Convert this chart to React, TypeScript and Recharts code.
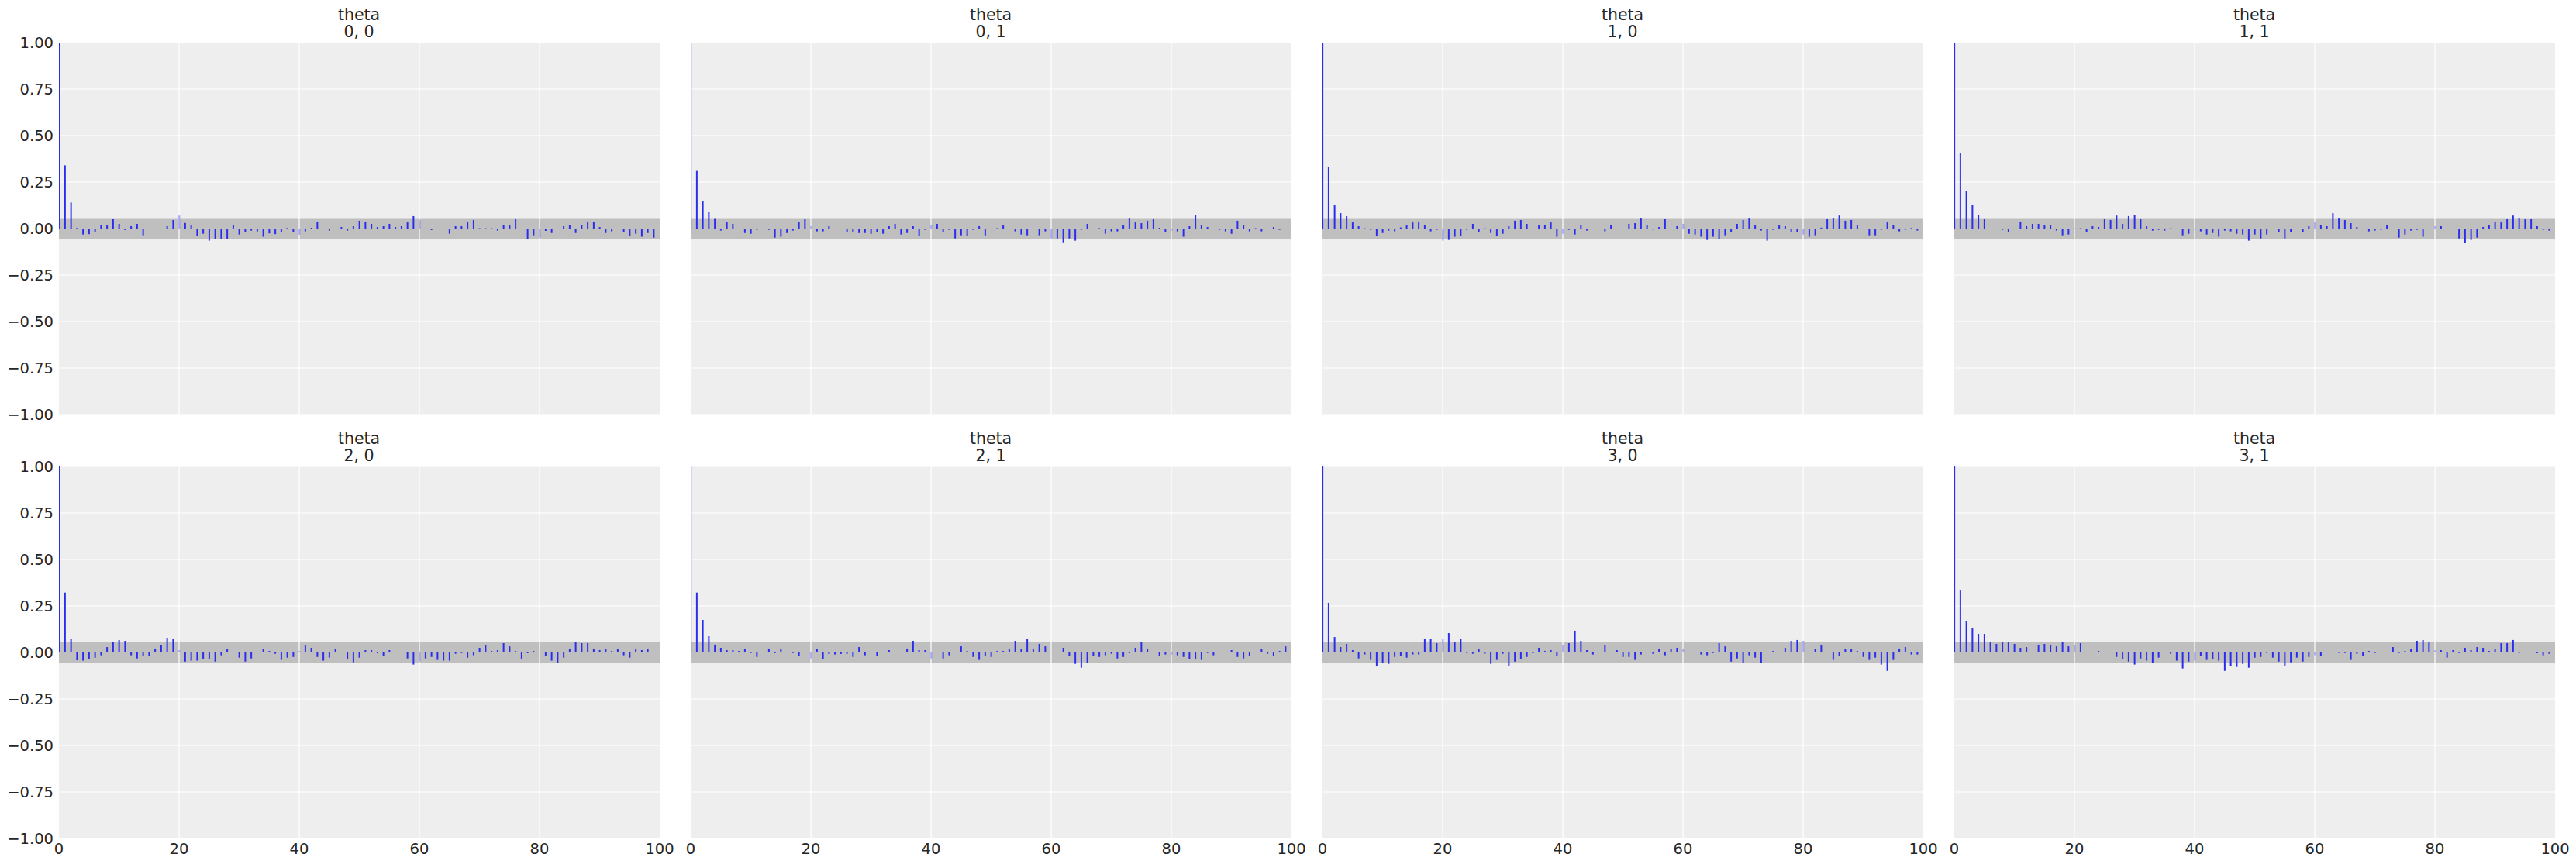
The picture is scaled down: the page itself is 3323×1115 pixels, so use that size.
import React from "react";
import { BarChart, Bar, XAxis, YAxis, CartesianGrid, ReferenceArea, ReferenceLine } from "recharts";

// lag index (categories)
const lags: number[] = Array.from({ length: 100 }, (_, i) => i);
const xTicks = [0, 20, 40, 60, 80, 100];
const yTicks = [-1, -0.75, -0.5, -0.25, 0, 0.25, 0.5, 0.75, 1];
const varName = "theta";
const panelLabels = ["0, 0", "0, 1", "1, 0", "1, 1", "2, 0", "2, 1", "3, 0", "3, 1"];
const bandHalfWidth = 0.056;

const theta00 = [
  1, 0.34, 0.14, 0.003, -0.032, -0.03, -0.02, 0.02, 0.02, 0.05,
  0.025, -0.008, 0.0125, 0.025, -0.036, -0.003, 0, 0, 0.0125, 0.046,
  0.07, 0.03, 0.017, -0.04, -0.028, -0.065, -0.055, -0.055, -0.054, 0.017,
  -0.032, -0.02, -0.011, -0.015, -0.044, -0.026, -0.03, -0.02, 0.003, -0.02,
  -0.033, -0.015, 0.004, 0.037, -0.004, -0.011, -0.003, 0.008, -0.011, 0.0125,
  0.042, 0.035, 0.025, 0.008, 0.0125, 0.025, 0.008, 0.0125, 0.033, 0.067,
  0.046, 0, -0.008, -0.002, -0.003, -0.028, 0.0125, 0.0125, 0.037, 0.046,
  0.002, 0.002, 0.002, -0.011, 0.017, 0.017, 0.05, 0, -0.057, -0.036,
  -0.049, -0.0125, -0.024, 0, 0.0125, 0.02, -0.024, 0.017, 0.037, 0.037,
  0.008, -0.024, -0.015, -0.003, -0.02, -0.04, -0.028, -0.044, -0.024, -0.049,
];

const theta01 = [
  1, 0.31, 0.15, 0.092, 0.056, -0.011, 0.037, 0.025, -0.003, -0.024,
  -0.028, -0.007, 0, -0.007, -0.049, -0.044, -0.024, -0.011, 0.037, 0.054,
  0.0125, -0.015, -0.015, 0.0125, -0.003, 0, -0.02, -0.02, -0.024, -0.024,
  -0.028, -0.02, -0.028, 0.0125, 0.025, -0.032, -0.024, 0.0125, -0.04, -0.007,
  0.017, 0.025, -0.02, -0.007, -0.053, -0.036, -0.04, -0.007, 0.0125, -0.036,
  -0.002, 0.002, 0.017, 0, -0.015, -0.032, -0.036, 0, -0.036, -0.015,
  -0.053, -0.053, -0.074, -0.053, -0.065, -0.007, 0.025, 0, 0.002, -0.028,
  -0.015, -0.015, 0.02, 0.058, 0.033, 0.029, 0.042, 0.05, 0.004, -0.02,
  -0.011, -0.015, -0.044, 0.0125, 0.075, 0.017, 0.008, 0, -0.007, -0.015,
  -0.028, 0.042, 0.017, -0.015, 0.002, -0.015, 0, 0.008, -0.007, -0.003,
];

const theta10 = [
  1, 0.333, 0.129, 0.083, 0.067, 0.033, 0.0125, 0.002, -0.007, -0.04,
  -0.024, -0.011, -0.015, 0.006, 0.02, 0.033, 0.037, 0.02, -0.015, -0.007,
  -0.065, -0.061, -0.044, -0.04, -0.007, 0.025, -0.02, 0.002, -0.024, -0.04,
  -0.028, 0.0125, 0.042, 0.046, 0.025, 0, 0.017, 0.017, 0.033, -0.044,
  -0.028, -0.007, -0.032, 0.017, -0.011, -0.003, 0, -0.015, 0.02, -0.002,
  0, 0.025, 0.029, 0.058, 0.017, -0.005, 0.008, 0.05, 0, 0.0125,
  0.025, -0.028, -0.032, -0.044, -0.061, -0.044, -0.057, -0.036, -0.02, 0.025,
  0.046, 0.058, 0.02, -0.011, -0.065, -0.007, 0.02, 0.0125, -0.02, -0.02,
  -0.032, -0.044, -0.036, 0.005, 0.054, 0.058, 0.07, 0.042, 0.046, 0.02,
  -0.002, -0.036, -0.036, -0.007, 0.033, 0.02, -0.015, -0.007, 0.003, -0.011,
];

const theta11 = [
  1, 0.408, 0.204, 0.129, 0.075, 0.05, -0.003, 0, -0.007, -0.02,
  0, 0.037, 0.0125, 0.025, 0.025, 0.02, 0.02, -0.011, -0.036, -0.032,
  0.002, 0.002, -0.02, 0.0125, 0.008, 0.054, 0.046, 0.07, 0.025, 0.067,
  0.075, 0.05, 0.0125, -0.011, -0.007, -0.011, 0.002, -0.003, -0.036, -0.028,
  -0.007, -0.015, -0.032, -0.024, -0.044, -0.011, -0.015, -0.028, -0.032, -0.065,
  -0.032, -0.053, -0.032, -0.003, -0.02, -0.053, -0.02, -0.003, -0.02, 0.0125,
  0.037, 0.02, 0.0125, 0.083, 0.058, 0.046, 0.029, 0.008, 0, -0.015,
  -0.011, -0.007, 0.017, 0, -0.049, -0.032, -0.011, -0.007, -0.044, 0,
  0.0125, 0.0125, -0.003, 0, -0.053, -0.078, -0.061, -0.049, 0.008, 0.02,
  0.037, 0.033, 0.05, 0.07, 0.058, 0.054, 0.05, 0.0125, -0.007, -0.011,
];

const theta20 = [
  1, 0.322, 0.075, -0.042, -0.044, -0.036, -0.028, -0.015, 0.029, 0.058,
  0.067, 0.0625, -0.015, -0.032, -0.019, -0.019, 0.021, 0.0375, 0.079, 0.075,
  0.0125, -0.049, -0.044, -0.044, -0.036, -0.036, -0.049, -0.015, 0.017, 0,
  -0.028, -0.049, -0.032, 0.004, 0.021, 0.008, -0.007, -0.04, -0.028, -0.024,
  0.008, 0.0375, 0.025, -0.024, -0.044, -0.028, 0.021, 0, -0.036, -0.053,
  -0.028, 0.0125, 0.0125, -0.004, -0.019, 0.0125, 0, 0, -0.032, -0.065,
  -0.049, -0.032, -0.024, -0.04, -0.044, -0.044, -0.007, -0.003, -0.028, -0.015,
  0.025, 0.0375, 0.008, 0.0125, 0.05, 0.033, 0.008, -0.036, -0.004, 0.008,
  0.004, -0.019, -0.044, -0.057, -0.028, 0.021, 0.058, 0.05, 0.05, 0.021,
  0.0125, 0.021, 0.008, 0.017, -0.015, -0.028, 0.021, 0.0125, 0.017, 0,
];

const theta21 = [
  1, 0.322, 0.175, 0.0875, 0.042, 0.025, 0.0125, 0.0125, 0.008, 0.021,
  -0.003, -0.024, 0.004, 0.021, -0.004, 0.021, 0.004, -0.003, -0.019, 0.004,
  -0.032, 0.017, -0.036, -0.008, -0.011, -0.008, -0.007, -0.024, 0.029, -0.015,
  0, -0.019, 0.004, 0.0125, 0.004, 0, 0.021, 0.0625, 0.0125, 0.0125,
  -0.032, 0, -0.032, -0.015, 0.004, 0.033, 0.008, -0.024, -0.04, -0.019,
  -0.024, 0.008, 0.008, 0.021, 0.0625, 0.017, 0.075, 0.021, 0.046, 0.033,
  0, 0.004, 0.025, -0.019, -0.061, -0.082, -0.057, -0.019, -0.024, -0.015,
  -0.007, -0.032, -0.024, -0.004, 0.025, 0.058, 0.021, 0, -0.019, -0.011,
  -0.011, -0.015, -0.024, -0.036, -0.036, -0.04, -0.003, -0.015, 0.004, 0,
  0.0125, -0.024, -0.032, -0.019, 0, 0.017, -0.007, -0.019, 0.008, 0.033,
];

const theta30 = [
  1, 0.267, 0.083, 0.029, 0.046, 0.0125, -0.032, -0.011, -0.04, -0.072,
  -0.057, -0.061, -0.024, -0.019, -0.028, -0.011, -0.011, 0.075, 0.075, 0.05,
  0.071, 0.104, 0.058, 0.071, -0.003, -0.007, 0.021, -0.007, -0.061, -0.04,
  -0.007, -0.072, -0.049, -0.036, -0.024, -0.004, 0.025, 0.008, 0.0125, -0.019,
  0.0375, 0.05, 0.117, 0.0625, 0.0125, -0.011, 0, 0.042, 0, 0.0125,
  -0.024, -0.024, -0.04, -0.011, 0, -0.007, 0.021, -0.015, 0.021, 0.025,
  0.017, 0, 0, -0.011, -0.015, -0.003, 0.05, 0.033, -0.049, -0.032,
  -0.057, -0.015, -0.028, -0.057, 0.004, 0.008, 0, 0.025, 0.0625, 0.067,
  0.0625, 0.004, 0.021, 0.0375, 0.003, -0.04, -0.019, 0.021, 0.017, 0.008,
  -0.024, -0.04, -0.028, -0.065, -0.099, -0.04, 0.021, 0.029, -0.011, -0.011,
];

const theta31 = [
  1, 0.333, 0.167, 0.129, 0.1, 0.1, 0.054, 0.046, 0.058, 0.054,
  0.046, 0.025, 0.029, 0, 0.042, 0.046, 0.042, 0.033, 0.058, 0.033,
  0.042, 0.05, 0.003, 0.003, 0.008, 0, 0, -0.024, -0.036, -0.049,
  -0.065, -0.032, -0.044, -0.057, -0.028, 0.004, -0.007, -0.044, -0.086, -0.049,
  -0.044, -0.019, -0.04, -0.036, -0.044, -0.099, -0.072, -0.078, -0.061, -0.082,
  -0.028, -0.024, -0.003, -0.028, -0.049, -0.072, -0.053, -0.028, -0.049, -0.024,
  -0.015, -0.019, 0, 0, -0.002, -0.003, -0.04, -0.007, -0.019, 0.008,
  -0.003, 0, 0, 0.029, -0.003, 0.008, 0.017, 0.0625, 0.067, 0.058,
  0.0125, 0.0125, -0.028, 0.0125, -0.003, 0.025, 0.0125, 0.029, 0.025, 0.008,
  0.017, 0.05, 0.05, 0.067, -0.003, 0, 0.002, -0.004, -0.015, -0.007,
];

const panelSeries = [theta00, theta01, theta10, theta11, theta20, theta21, theta30, theta31];

const FONT = "'DejaVu Sans', sans-serif";
const TEXT = "#262626";
const FS = 19.5;
const TITLE_FS = 20.5;
const PLOT_W = 775;
const PLOT_H = 480;
const AXIS_W = 80;
const TOP = 16;
const RIGHT = 40;
const XAXIS_H = 34;
const colLefts = [75.5, 890.5, 1705.5, 2520.5];
const rowTops = [54.5, 601.5];
const innerXGrid = xTicks.filter((v) => v > 0 && v < 100);

function fmtY(v: number): string {
  const s = Math.abs(v).toFixed(2);
  return v < 0 ? "\u2212" + s : s;
}

const HiddenTick = () => <g />;

function Panel({ values, label, row, col }: { values: number[]; label: string; row: number; col: number }) {
  const data = lags.map((lag, i) => ({ lag, acf: values[i] }));
  const left = colLefts[col] - AXIS_W;
  const top = rowTops[row] - TOP;
  const showX = row === 1;
  const showY = col === 0;
  const tickStyle = { fill: TEXT, fontSize: FS, fontFamily: FONT };
  return (
    <>
      <div
        style={{
          position: "absolute",
          left: colLefts[col],
          top: rowTops[row] - 46.8,
          width: PLOT_W,
          textAlign: "center",
          fontSize: TITLE_FS,
          lineHeight: "22.3px",
          color: TEXT,
          fontFamily: FONT,
        }}
      >
        {varName}
        <br />
        {label}
      </div>
      <div style={{ position: "absolute", left, top }}>
        <BarChart
          width={AXIS_W + PLOT_W + RIGHT}
          height={TOP + PLOT_H + XAXIS_H}
          data={data}
          margin={{ top: TOP, right: RIGHT, bottom: 0, left: 0 }}
        >
          <CartesianGrid
            fill="#eeeeee"
            stroke="#ffffff"
            strokeWidth={1.2}
            vertical={false}
            horizontalValues={yTicks}
          />
          <XAxis
            dataKey="lag"
            type="number"
            domain={[0, 100]}
            ticks={xTicks}
            interval={0}
            height={XAXIS_H}
            axisLine={false}
            tickLine={false}
            tickSize={0}
            tickMargin={6}
            allowDataOverflow
            tick={showX ? tickStyle : HiddenTick}
          />
          <YAxis
            type="number"
            domain={[-1, 1]}
            ticks={yTicks}
            interval={0}
            width={AXIS_W}
            axisLine={false}
            tickLine={false}
            tickSize={0}
            tickMargin={7}
            tickFormatter={fmtY}
            tick={showY ? tickStyle : HiddenTick}
          />
          {innerXGrid.map((v) => (
            <ReferenceLine key={v} x={v} stroke="#ffffff" strokeWidth={1.2} />
          ))}
          <ReferenceArea y1={-bandHalfWidth} y2={bandHalfWidth} fill="#bfbfbf" fillOpacity={1} stroke="none" />
          <Bar dataKey="acf" fill="#2a2eec" barSize={2} isAnimationActive={false} />
        </BarChart>
      </div>
    </>
  );
}

export default function App() {
  return (
    <div
      style={{
        position: "absolute",
        left: 0,
        top: 0,
        width: 3323,
        height: 1115,
        background: "#ffffff",
        fontFamily: FONT,
        overflow: "hidden",
      }}
    >
      {panelSeries.map((vals, i) => (
        <Panel key={i} values={vals} label={panelLabels[i]} row={Math.floor(i / 4)} col={i % 4} />
      ))}
    </div>
  );
}
